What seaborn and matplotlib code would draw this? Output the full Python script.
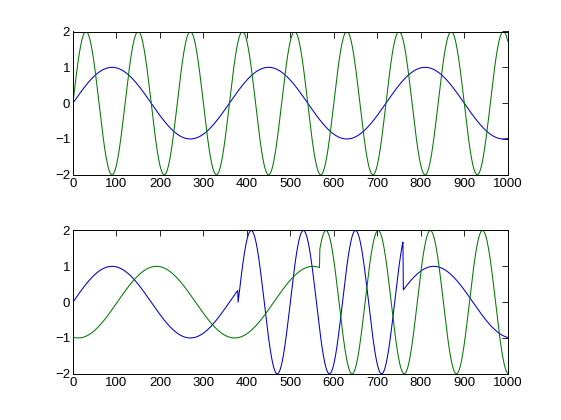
import numpy as np
import pandas as pd
import matplotlib
matplotlib.use("Agg")
import matplotlib.pyplot as plt
import seaborn as sns
from matplotlib import font_manager

# ---- values ----
x_ticks = [0, 100, 200, 300, 400, 500, 600, 700, 800, 900, 1000]
y_ticks = [-2, -1, 0, 1, 2]
n_samples = 1000

# top panel: (amplitude, period, phase shift) per series
top_blue = (1.0, 360.0, 0.0)      # sine, peak near 90
top_green = (2.0, 120.0, 0.0)     # sine, peak near 30

# bottom panel, blue: segments (start, end, amplitude, period, shift, kind)
bot_blue_segments = [
    (0, 380, 1.0, 360.0, 0.0, "sin"),
    (380, 760, 2.0, 120.0, 380.0, "sin"),
    (760, 1000, 1.0, 360.0, 380.0, "sin"),
]
# bottom panel, green
bot_green_segments = [
    (0, 568, 1.0, 360.0, 12.0, "-cos"),
    (568, 1000, 2.0, 120.0, 582.0, "cos"),
]

blue = "#0000cc"
green = "#007a00"


def wave(x, amp, period, shift, kind):
    t = 2 * np.pi * (x - shift) / period
    if kind == "sin":
        return amp * np.sin(t)
    if kind == "cos":
        return amp * np.cos(t)
    return -amp * np.cos(t)


def build(segments, x):
    y = np.empty_like(x, dtype=float)
    for (s, e, a, p, sh, k) in segments:
        m = (x >= s) & (x <= e)
        y[m] = wave(x[m], a, p, sh, k)
    return y


x = np.arange(0, n_samples + 1, dtype=float)
df_top = pd.DataFrame({
    "x": x,
    "blue": wave(x, *top_blue, "sin"),
    "green": wave(x, *top_green, "sin"),
})
df_bot = pd.DataFrame({
    "x": x,
    "blue": build(bot_blue_segments, x),
    "green": build(bot_green_segments, x),
})

sns.set_style("white")
names = {f.name for f in font_manager.fontManager.ttflist}
fam = ["Liberation Sans Narrow"] if "Liberation Sans Narrow" in names else ["Liberation Sans"]
plt.rcParams["font.family"] = fam + ["DejaVu Sans"]

fig = plt.figure(figsize=(5.61, 4.2), dpi=100)
fig.patch.set_facecolor("white")
ax1 = fig.add_axes([0.13, 0.5838, 0.775, 0.3412])
ax2 = fig.add_axes([0.13, 0.11, 0.775, 0.3412])

for ax, df in [(ax1, df_top), (ax2, df_bot)]:
    sns.lineplot(data=df, x="x", y="blue", ax=ax, color=blue, lw=0.75,
                 estimator=None, sort=False)
    sns.lineplot(data=df, x="x", y="green", ax=ax, color=green, lw=0.75,
                 estimator=None, sort=False)
    ax.set_xlim(0, 1000)
    ax.set_ylim(-2, 2)
    ax.set_xticks(x_ticks)
    ax.set_yticks(y_ticks)
    ax.set_xlabel("")
    ax.set_ylabel("")
    ax.tick_params(direction="in", length=4, width=0.6, top=True, right=True,
                   labelsize=9.5, colors="black", pad=2)
    for sp in ax.spines.values():
        sp.set_visible(True)
        sp.set_color("black")
        sp.set_linewidth(0.7)
    ax.set_facecolor("white")
    ax.grid(False)

fig.savefig("out.png", dpi=100, facecolor="white")
